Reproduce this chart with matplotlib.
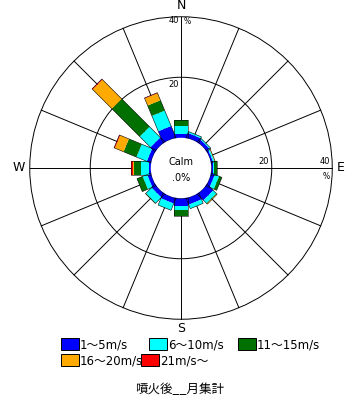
import numpy as np
import matplotlib.pyplot as plt
from matplotlib.patches import Polygon, Circle, Rectangle

# DATA (percent of observations per direction and wind speed class)
directions = ["N", "NNE", "NE", "ENE", "E", "ESE", "SE", "SSE",
              "S", "SSW", "SW", "WSW", "W", "WNW", "NW", "NNW"]
speed_1_5 = [1.2, 1.6, 1.2, 0.6, 0.5, 1.2, 2.8, 2.2, 2.5, 1.8, 1.5, 1.2, 0.6, 1.3, 2.0, 4.1]
speed_6_10 = [2.6, 0.5, 0.4, 0.5, 0.3, 1.5, 1.4, 1.4, 1.3, 2.4, 2.6, 1.6, 2.6, 3.7, 5.0, 5.5]
speed_11_15 = [2.1, 0.0, 0.0, 0.0, 1.2, 1.0, 0.2, 0.0, 2.0, 0.0, 0.2, 2.0, 2.2, 4.6, 13.0, 3.7]
speed_16_20 = [0.0, 0.0, 0.0, 0.2, 0.0, 0.0, 0.2, 0.0, 0.0, 0.0, 0.0, 0.0, 0.6, 3.1, 9.0, 2.5]
speed_21 = [0.0, 0.0, 0.0, 0.0, 0.0, 0.0, 0.0, 0.0, 0.0, 0.0, 0.0, 0.0, 0.5, 0.3, 0.3, 0.2]

labels = ["1～5m/s", "6～10m/s", "11～15m/s", "16～20m/s", "21m/s～"]
colors = ["#0000FF", "#00FFFF", "#007000", "#FFAA00", "#FF0000"]
calm_text = ".0%"
title = "噴火後__月集計"
rings = [20, 40]

# LAYOUT (pixels)
W, H = 356, 404
CX, CY = 181, 168
PX_PER_PCT = 3.025
CALM = 10          # calm circle radius in percent units
HALF_W = 2.3       # half bar width in percent units
LIM = 52

fig = plt.figure(figsize=(W / 100, H / 100), dpi=100)
fig.patch.set_facecolor("white")

half = LIM * PX_PER_PCT
ax = fig.add_axes([(CX - half) / W, (H - CY - half) / H, 2 * half / W, 2 * half / H])
ax.set_xlim(-LIM, LIM)
ax.set_ylim(-LIM, LIM)
ax.axis("off")

# GRID
angles = np.deg2rad(np.arange(16) * 22.5)
r_out = CALM + rings[-1]
for a in angles:
    ux, uy = np.sin(a), np.cos(a)
    ax.plot([CALM * ux, r_out * ux], [CALM * uy, r_out * uy], color="black", lw=0.7, zorder=1)
for r in rings:
    ax.add_patch(Circle((0, 0), CALM + r, fill=False, ec="black", lw=0.7, zorder=1))

# BARS
series = [speed_1_5, speed_6_10, speed_11_15, speed_16_20, speed_21]
for i, a in enumerate(angles):
    ux, uy = np.sin(a), np.cos(a)
    px, py = np.cos(a), -np.sin(a)
    r0 = CALM - 1
    start = CALM
    for s, c in zip(series, colors):
        v = s[i]
        if v <= 0:
            continue
        r1 = start + v
        pts = [(r0 * ux + HALF_W * px, r0 * uy + HALF_W * py),
               (r1 * ux + HALF_W * px, r1 * uy + HALF_W * py),
               (r1 * ux - HALF_W * px, r1 * uy - HALF_W * py),
               (r0 * ux - HALF_W * px, r0 * uy - HALF_W * py)]
        ax.add_patch(Polygon(pts, closed=True, fc=c, ec="none", zorder=2))
        r0 = r1
        start = r1
    total = start
    pts = [(CALM * ux + HALF_W * px, CALM * uy + HALF_W * py),
           (total * ux + HALF_W * px, total * uy + HALF_W * py),
           (total * ux - HALF_W * px, total * uy - HALF_W * py),
           (CALM * ux - HALF_W * px, CALM * uy - HALF_W * py)]
    ax.add_patch(Polygon(pts, closed=True, fc="none", ec="black", lw=0.4, zorder=2.5))

ax.add_patch(Circle((0, 0), CALM, fc="white", ec="none", zorder=3))
ax.text(0, 2.0, "Calm", ha="center", va="center", fontsize=7, zorder=4)
ax.text(0, -3.3, calm_text, ha="center", va="center", fontsize=7, zorder=4)

# DIRECTION LABELS
ax.text(0, 53.6, "N", ha="center", va="center", fontsize=9)
ax.text(0, -53.2, "S", ha="center", va="center", fontsize=9)
ax.text(52.8, 0, "E", ha="center", va="center", fontsize=9)
ax.text(-53.6, 0, "W", ha="center", va="center", fontsize=9)

# RING LABELS
ax.text(-0.6, CALM + rings[0] - 0.8, str(rings[0]), ha="right", va="top", fontsize=6)
ax.text(-0.6, CALM + rings[1] + 0.1, str(rings[1]), ha="right", va="top", fontsize=6)
ax.text(1.0, CALM + rings[1] - 0.1, "%", ha="left", va="top", fontsize=5.5)
ax.text(CALM + rings[0] - 1.0, 0.6, str(rings[0]), ha="right", va="bottom", fontsize=6)
ax.text(CALM + rings[1] - 0.6, 0.6, str(rings[1]), ha="right", va="bottom", fontsize=6)
ax.text(CALM + rings[1] - 2.0, -1.3, "%", ha="center", va="top", fontsize=5.5)

# LEGEND
lax = fig.add_axes([0, 0, 1, 1])
lax.set_xlim(0, W)
lax.set_ylim(H, 0)
lax.axis("off")
leg_x = [61, 149, 238, 61, 141]
leg_y = [338, 338, 338, 354, 354]
for lbl, c, x, y in zip(labels, colors, leg_x, leg_y):
    lax.add_patch(Rectangle((x, y), 18, 12, fc=c, ec="black", lw=0.7))
    lax.text(x + 19, y + 6.5, lbl, ha="left", va="center", fontsize=8.5,
             family=["DejaVu Sans", "Noto Sans CJK JP"])

lax.text(180, 390, title, ha="center", va="center", fontsize=9,
         family=["Noto Sans CJK JP", "DejaVu Sans"])

fig.savefig("out.png", dpi=100, facecolor="white")
